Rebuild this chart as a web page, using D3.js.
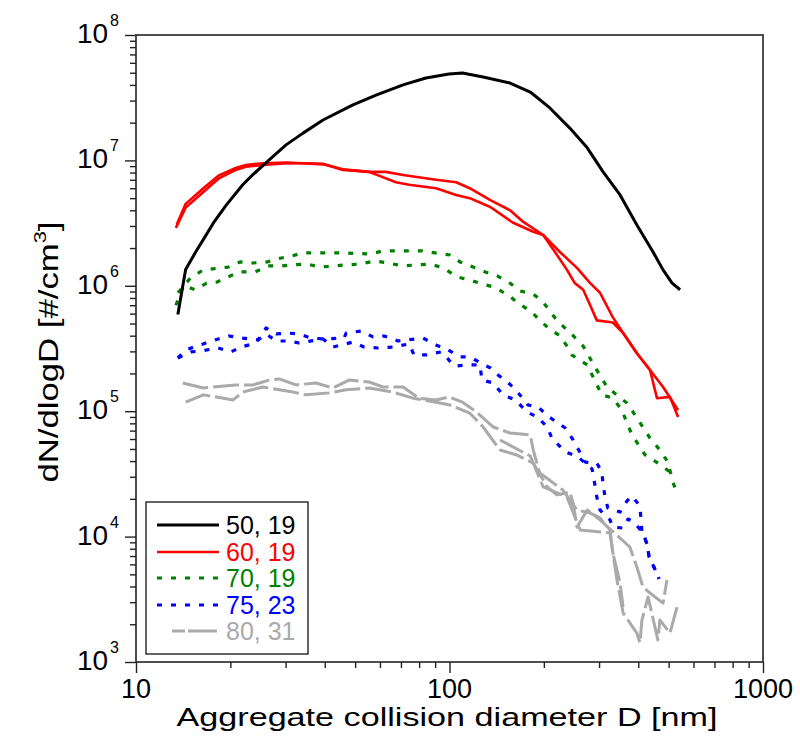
<!DOCTYPE html>
<html>
<head>
<meta charset="utf-8">
<script src="https://cdn.jsdelivr.net/npm/d3@7"></script>
<style>
  body { margin: 0; background: #fff; }
  svg { display: block; }
  text { font-family: "Liberation Sans", Arial, sans-serif; }
</style>
</head>
<body>
<svg id="chart" width="800" height="736"></svg>
<script>
// values: [diameter nm, dN/dlogD]
const black50 = [[13.6,5.9e5],[14.0,9.0e5],[14.4,1.35e6],[15.5,1.86e6],[16.5,2.4e6],[17.7,3.2e6],[19.4,4.4e6],[21.9,6.4e6],[23.6,7.7e6],[26.6,1.01e7],[30.1,1.33e7],[34.1,1.65e7],[39.5,2.1e7],[49.2,2.77e7],[58.3,3.32e7],[71.1,4.0e7],[84.1,4.54e7],[99.6,4.89e7],[110,4.98e7],[128,4.62e7],[156,4.14e7],[181,3.51e7],[209,2.62e7],[242,1.81e7],[275,1.26e7],[309,8.1e6],[350,5.3e6],[396,3.05e6],[446,1.86e6],[480,1.34e6],[513,1.05e6],[544,9.3e5]];

const red60a = [[13.4,2.9e6],[14.4,4.2e6],[16.4,5.6e6],[18.4,7.2e6],[20.8,8.4e6],[22.4,8.9e6],[25.4,9.2e6],[30.1,9.5e6],[34.1,9.5e6],[39.5,9.4e6],[45.7,8.4e6],[55.4,8.1e6],[67.5,6.7e6],[74.3,6.4e6],[90.6,6.0e6],[105,5.3e6],[116,5.0e6],[135,4.25e6],[159,3.2e6],[185,2.7e6],[199,2.54e6],[217,1.86e6],[237,1.34e6],[251,1.05e6],[267,9.3e5],[281,7.0e5],[295,5.3e5],[332,5.1e5],[358,4.2e5],[396,2.9e5],[436,2.13e5],[459,1.27e5],[505,1.3e5],[536,9.0e4]];
const red60b = [[13.5,3.1e6],[14.4,4.5e6],[16.4,6.0e6],[18.4,7.6e6],[20.8,8.7e6],[22.4,9.2e6],[25.4,9.5e6],[30.1,9.6e6],[34.1,9.5e6],[39.5,9.3e6],[45.7,8.5e6],[55.4,8.1e6],[62.7,8.1e6],[71.1,7.65e6],[90.6,7.0e6],[105,6.7e6],[116,6.0e6],[135,4.83e6],[156,4.0e6],[172,3.23e6],[199,2.54e6],[225,1.86e6],[255,1.39e6],[281,1.05e6],[302,8.8e5],[332,5.6e5],[358,4.2e5],[396,2.9e5],[436,2.13e5],[480,1.56e5],[516,1.18e5],[536,1.02e5]];

const green70a = [[13.6,8.8e5],[14.9,1.15e6],[16.4,1.34e6],[19.7,1.41e6],[21.5,1.55e6],[23.6,1.52e6],[26.2,1.55e6],[28.2,1.64e6],[31.4,1.73e6],[34.1,1.83e6],[37.8,1.83e6],[46.4,1.83e6],[55.8,1.79e6],[61.4,1.9e6],[68.0,1.9e6],[81.7,1.9e6],[89.9,1.83e6],[100.4,1.76e6],[108,1.55e6],[119,1.41e6],[130,1.29e6],[142,1.2e6],[156,1.05e6],[168,9.1e5],[185,8.6e5],[199,7.4e5],[220,5.3e5],[248,4.0e5],[267,3.3e5],[291,2.25e5],[318,1.56e5],[368,1.16e5],[385,9.85e4],[436,6.1e4],[469,4.9e4],[498,3.9e4],[516,2.7e4],[536,2.15e4]];
const green70b = [[13.4,7.0e5],[14.2,1.01e6],[15.4,9.3e5],[16.8,1.05e6],[18.1,1.07e6],[19.7,1.18e6],[21.5,1.29e6],[24.0,1.29e6],[26.4,1.44e6],[29.2,1.44e6],[31.7,1.47e6],[35.1,1.49e6],[38.6,1.41e6],[42.5,1.44e6],[47.1,1.47e6],[51.8,1.49e6],[57.9,1.58e6],[63.7,1.52e6],[71.1,1.44e6],[78.8,1.47e6],[86.7,1.49e6],[95.4,1.39e6],[105.7,1.18e6],[116,1.11e6],[128,1.03e6],[138,9.8e5],[154,8.45e5],[165,7.3e5],[183,6.2e5],[194,5.3e5],[209,4.5e5],[225,4.0e5],[237,3.3e5],[246,2.8e5],[275,2.34e5],[306,1.35e5],[332,1.27e5],[355,1.02e5],[368,8.05e4],[382,6.5e4],[420,4.5e4],[462,3.86e4],[505,3.28e4]];

const blue75a = [[13.6,2.66e5],[14.4,3.08e5],[16.7,3.5e5],[18.3,3.77e5],[19.8,3.98e5],[21.9,3.83e5],[24.5,3.7e5],[26.0,4.61e5],[28.0,4.13e5],[30.5,4.2e5],[33.1,4.13e5],[36.2,3.83e5],[39.5,3.77e5],[46.1,3.83e5],[46.8,4.2e5],[52.2,4.36e5],[57.0,3.91e5],[61.8,3.98e5],[68.5,3.63e5],[82.3,3.83e5],[90.6,3.37e5],[98.9,3.08e5],[108,2.71e5],[116,2.71e5],[135,2.21e5],[143,1.94e5],[153,1.71e5],[162,1.5e5],[178,1.12e5],[192,1.08e5],[205,9.2e4],[234,7.35e4],[248,5.9e4],[271,3.93e4],[295,3.86e4],[306,3.28e4],[309,2.63e4],[313,2.11e4],[320,1.69e4],[350,1.57e4],[368,1.92e4],[382,2.11e4],[405,1.75e4],[411,1.09e4],[427,8.7e3],[433,6.9e3],[452,5.5e3],[466,4.6e3]];
const blue75b = [[13.6,2.66e5],[15.0,2.97e5],[16.1,3.02e5],[18.3,3.19e5],[20.1,2.97e5],[21.6,3.25e5],[23.6,3.44e5],[26.0,4.13e5],[28.0,3.63e5],[30.5,3.63e5],[33.1,3.5e5],[39.5,3.77e5],[42.5,3.25e5],[49.2,3.56e5],[53.4,3.25e5],[59.2,3.19e5],[66.0,3.25e5],[74.3,3.44e5],[77.1,2.81e5],[84.1,2.81e5],[94.0,2.97e5],[98.9,2.61e5],[103.4,2.29e5],[114.6,2.34e5],[125,2.34e5],[127,1.77e5],[138,1.68e5],[148,1.35e5],[162,1.23e5],[177,9.85e4],[190,9.0e4],[205,7.5e4],[212,6.1e4],[234,4.73e4],[255,4.39e4],[285,3.46e4],[291,2.58e4],[295,2.07e4],[302,1.63e4],[325,1.36e4],[332,1.19e4],[358,1.17e4],[371,1.38e4],[385,1.33e4],[414,1.07e4],[427,8.7e3],[433,6.9e3],[452,5.5e3],[466,4.6e3]];

const gray80a = [[14.1,1.68e5],[16.4,1.53e5],[20.8,1.62e5],[23.6,1.62e5],[26.6,1.77e5],[28.6,1.81e5],[32.4,1.62e5],[37.5,1.68e5],[42.5,1.53e5],[47.8,1.77e5],[55.4,1.71e5],[61.4,1.56e5],[71.1,1.56e5],[79.9,1.27e5],[90.6,1.23e5],[99.6,1.3e5],[110,1.18e5],[122,9.85e4],[138,7.48e4],[156,6.7e4],[181,6.46e4],[185,4.9e4],[194,3.22e4],[230,2.35e4],[255,1.63e4],[281,1.54e4],[302,1.41e4],[325,1.13e4],[332,7.4e3],[350,4.27e3],[358,2.74e3]];
const gray80b = [[14.4,1.18e5],[16.4,1.35e5],[20.4,1.23e5],[21.9,1.42e5],[25.4,1.56e5],[31.7,1.42e5],[34.9,1.35e5],[41.3,1.4e5],[46.8,1.48e5],[55.4,1.53e5],[66.0,1.42e5],[76.5,1.27e5],[90.6,1.18e5],[100.4,1.12e5],[116,9.67e4],[128,7.48e4],[145,4.9e4],[164,4.47e4],[185,3.86e4],[205,2.49e4],[220,2.15e4],[242,2.27e4],[248,1.85e4],[255,1.19e4],[275,1.63e4],[302,1.36e4],[376,8.26e3],[396,5.72e3],[414,3.96e3],[436,3.55e3],[480,2.95e3],[494,4.51e3]];
const gray80c = [[145,5.89e4],[181,4.39e4],[199,2.49e4],[237,2.07e4],[261,1.13e4],[325,1.07e4],[342,4.51e3],[358,2.46e3],[396,1.7e3],[405,1.42e3],[411,2.16e3],[430,3.3e3],[462,1.5e3],[469,2.16e3],[505,1.7e3],[536,2.95e3]];

const legendLabels = ["50, 19", "60, 19", "70, 19", "75, 23", "80, 31"];
const xMajor = [10, 100, 1000];
const yMajor = [1e3, 1e4, 1e5, 1e6, 1e7, 1e8];

const series = [
  { label: legendLabels[0], color: "#000000", width: 3, dash: null, curves: [black50] },
  { label: legendLabels[1], color: "#ff0000", width: 2.6, dash: null, curves: [red60a, red60b] },
  { label: legendLabels[2], color: "#008000", width: 3.2, dash: "5,9", curves: [green70a, green70b] },
  { label: legendLabels[3], color: "#0000ff", width: 3.2, dash: "5,9", curves: [blue75a, blue75b] },
  { label: legendLabels[4], color: "#aaaaaa", width: 3, dash: "26,5", curves: [gray80a, gray80b, gray80c] }
];

const svg = d3.select('#chart');
const m = { left: 136, right: 763, top: 35, bottom: 662 };

const x = d3.scaleLog().domain([10, 1000]).range([m.left, m.right]);
const y = d3.scaleLog().domain([1e3, 1e8]).range([m.bottom, m.top]);

svg.append('defs').append('clipPath').attr('id', 'plotclip')
  .append('rect')
  .attr('x', m.left).attr('y', m.top)
  .attr('width', m.right - m.left).attr('height', m.bottom - m.top);

// curves
const line = d3.line().x(d => x(d[0])).y(d => y(d[1]));
const curvesG = svg.append('g').attr('clip-path', 'url(#plotclip)');
series.slice().reverse().forEach(s => {
  s.curves.forEach(c => {
    curvesG.append('path')
      .datum(c)
      .attr('d', line)
      .attr('fill', 'none')
      .attr('stroke', s.color)
      .attr('stroke-width', s.width)
      .attr('stroke-linejoin', 'round')
      .attr('stroke-dasharray', s.dash);
  });
});

// axes with log minor ticks
const isMajor = v => Math.abs(Math.log10(v) - Math.round(Math.log10(v))) < 1e-9;

const yAxis = svg.append('g')
  .attr('transform', `translate(${m.left},0)`)
  .call(d3.axisLeft(y).tickValues(y.ticks()).tickFormat('').tickSizeOuter(0));
yAxis.selectAll('.tick line')
  .attr('x2', d => isMajor(d) ? -11 : -6)
  .attr('stroke', '#222').attr('stroke-width', 1.4);
yAxis.select('.domain').remove();

const xAxis = svg.append('g')
  .attr('transform', `translate(0,${m.bottom})`)
  .call(d3.axisBottom(x).tickValues(x.ticks()).tickFormat('').tickSizeOuter(0));
xAxis.selectAll('.tick line')
  .attr('y2', d => isMajor(d) ? 11 : 6)
  .attr('stroke', '#222').attr('stroke-width', 1.4);
xAxis.select('.domain').remove();

// frame
svg.append('rect')
  .attr('x', m.left).attr('y', m.top)
  .attr('width', m.right - m.left).attr('height', m.bottom - m.top)
  .attr('fill', 'none').attr('stroke', '#222').attr('stroke-width', 1.6);

// y tick labels 10^n
yMajor.forEach(v => {
  const t = svg.append('text')
    .attr('x', 119).attr('y', y(v) + 8)
    .attr('text-anchor', 'end')
    .attr('fill', '#000');
  t.append('tspan').attr('font-size', 28).text('10');
  t.append('tspan').attr('font-size', 16).attr('dx', 2).attr('dy', -17).text(Math.round(Math.log10(v)));
});

// x tick labels
svg.selectAll('.xlab')
  .data(xMajor)
  .join('text')
  .attr('x', d => x(d)).attr('y', 698)
  .attr('text-anchor', 'middle')
  .attr('font-size', 27)
  .text(d => d);

// axis titles
svg.append('text')
  .attr('x', 447).attr('y', 726)
  .attr('text-anchor', 'middle')
  .attr('font-size', 26)
  .attr('textLength', 541).attr('lengthAdjust', 'spacingAndGlyphs')
  .text('Aggregate collision diameter D [nm]');

const yt = svg.append('text')
  .attr('transform', 'translate(58,352) rotate(-90)')
  .attr('text-anchor', 'middle')
  .attr('font-size', 27)
  .attr('textLength', 261).attr('lengthAdjust', 'spacingAndGlyphs');
yt.append('tspan').text('dN/dlogD [#/cm');
yt.append('tspan').attr('font-size', 17).attr('dy', -12).text('3');
yt.append('tspan').attr('dy', 12).text(']');

// legend
const lg = svg.append('g');
lg.append('rect')
  .attr('x', 146).attr('y', 502).attr('width', 162).attr('height', 152)
  .attr('fill', '#fff').attr('stroke', '#222').attr('stroke-width', 1.4);
const rowY = [525, 552, 578, 605, 631];
series.forEach((s, i) => {
  const gray = i === 4;
  lg.append('line')
    .attr('x1', gray ? 172 : 157).attr('x2', gray ? 217 : 219)
    .attr('y1', rowY[i]).attr('y2', rowY[i])
    .attr('stroke', s.color).attr('stroke-width', s.width)
    .attr('stroke-dasharray', gray ? '13,3,40' : s.dash);
  lg.append('text')
    .attr('x', 226).attr('y', rowY[i] + 9)
    .attr('font-size', 25)
    .attr('fill', s.color)
    .text(s.label);
});
</script>
</body>
</html>
